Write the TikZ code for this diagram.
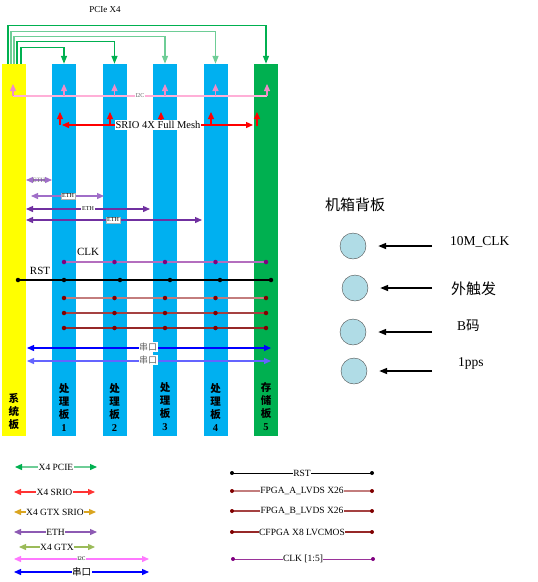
\documentclass[tikz,border=0pt]{standalone}
\usepackage{fontspec}
\setmainfont{Liberation Serif}
\newfontfamily\cjk{Noto Sans CJK SC}
\usetikzlibrary{arrows.meta}
\definecolor{sysyellow}{RGB}{255,255,0}
\definecolor{procblue}{RGB}{0,176,240}
\definecolor{storgreen}{RGB}{0,176,80}
\definecolor{pcieA}{RGB}{0,176,80}
\definecolor{pcieB}{RGB}{110,205,150}
\definecolor{i2cpink}{RGB}{255,175,215}
\definecolor{i2carr}{RGB}{240,140,200}
\definecolor{srioRed}{RGB}{255,0,0}
\definecolor{ethA}{RGB}{112,48,160}
\definecolor{ethB}{RGB}{160,110,200}
\definecolor{clkDot}{RGB}{128,0,128}
\definecolor{clkLine}{RGB}{180,110,190}
\definecolor{marDot}{RGB}{128,0,0}
\definecolor{marA}{RGB}{195,125,125}
\definecolor{marB}{RGB}{165,65,65}
\definecolor{marC}{RGB}{150,40,40}
\definecolor{uartA}{RGB}{0,0,255}
\definecolor{uartB}{RGB}{100,100,255}
\definecolor{gtxGold}{RGB}{218,165,32}
\definecolor{gtxOlive}{RGB}{155,187,89}
\definecolor{i2cLeg}{RGB}{255,120,255}
\definecolor{portFill}{RGB}{176,220,230}
\tikzset{
  board/.style={draw=none,inner sep=0,minimum width=24pt,minimum height=372pt},
  downtip/.style={-{Triangle[length=8pt,width=6pt]}},
  uptip/.style={-{Triangle[length=7pt,width=6pt]}},
  dtip/.style={{Triangle[length=7pt,width=6pt]}-{Triangle[length=7pt,width=6pt]}},
  sig/.style={line width=1.3pt},
  dotmark/.style={circle,fill=#1,inner sep=0,minimum size=4.5pt},
  vlabel/.style={align=center,text=black,font=\cjk\bfseries\fontsize{10.5}{13}\selectfont},
  leg/.style={fill=white,text=black,inner sep=0.5pt,font=\fontsize{9.5}{10}\selectfont},
  ethlab/.style={fill=white,text=black,inner sep=1pt,font=\fontsize{6}{6}\selectfont},
  port/.style={circle,draw=black!70,fill=portFill,minimum size=26pt,inner sep=0},
  inarrow/.style={-{Triangle[length=8pt,width=6pt]},line width=1.6pt,shorten >=12pt},
}
\begin{document}
\begin{tikzpicture}[x=1pt,y=-1pt]
\useasboundingbox (0,0) rectangle (538,582);

% boards
\node[board,fill=sysyellow] (b0) at (14,250) {};
\node[board,fill=procblue] (b1) at (64,250) {};
\node[board,fill=procblue] (b2) at (114.5,250) {};
\node[board,fill=procblue] (b3) at (165,250) {};
\node[board,fill=procblue] (b4) at (215.5,250) {};
\node[board,fill=storgreen] (b5) at (266,250) {};

% PCIe
\node[font=\fontsize{9}{10}\selectfont] (pcielab) at (105,10) {PCIe X4};
\draw[sig,pcieA,downtip] ([xshift=-6pt]b0.north) -- ++(0,-38) -| (b5.north);
\draw[sig,pcieB,downtip] ([xshift=-3pt]b0.north) -- ++(0,-32) -| (b4.north);
\draw[sig,pcieB,downtip] ([xshift=0pt]b0.north) -- ++(0,-27) -| (b3.north);
\draw[sig,pcieA,downtip] ([xshift=3pt]b0.north) -- ++(0,-22) -| (b2.north);
\draw[sig,pcieA,downtip] ([xshift=7pt]b0.north) -- ++(0,-16) -| (b1.north);

% I2C
\coordinate (i2cL) at (13,96);
\coordinate (i2cR) at (267,96);
\draw[sig,i2cpink] (i2cL) -- (i2cR);
\foreach \b in {b1,b2,b3,b4} \draw[sig,i2carr,uptip] (\b.center |- i2cL) -- ++(0,-12);
\draw[sig,i2carr,uptip] (i2cL) -- ++(0,-12);
\draw[sig,i2carr,uptip] (i2cR) -- ++(0,-12);
\node[fill=white,inner sep=0.5pt,text=black!60,font=\fontsize{6}{6}\selectfont] (i2clab) at (140,96) {I2C};

% SRIO
\draw[sig,srioRed,dtip] (62,125) -- (253,125);
\foreach \x in {60,110,161,211} \draw[sig,srioRed,uptip] (\x,125) -- (\x,112);
\draw[sig,srioRed,uptip] (257,126) -- (257,112);
\node[fill=white,text=black,inner sep=1pt,font=\fontsize{10.5}{11}\selectfont] (sriolab) at (158,125) {SRIO 4X Full Mesh};

% ETH
\draw[sig,ethB,dtip] (26,180) -- node[inner sep=0,text=black!55,font=\fontsize{6.5}{7}\selectfont] (eth1) {ETH} (52,180);
\draw[sig,ethB,dtip] (31,196) -- (104,196);
\node[ethlab,draw=black!30] (eth2) at (68,196) {ETH};
\draw[sig,ethA,dtip] (26,209) -- (150,209);
\node[ethlab] (eth3) at (88,209) {ETH};
\draw[sig,ethA,dtip] (26,220) -- (202,220);
\node[ethlab,draw=black!30] (eth4) at (113,220) {ETH};

% CLK
\draw[sig,clkLine] (64,262) -- (266,262);
\foreach \b in {b1,b2,b3,b4,b5} \node[dotmark=clkDot] at (\b.center |- 0,262) {};
\node[font=\fontsize{11}{12}\selectfont] (clklab) at (88,252) {CLK};

% RST
\draw[line width=1.2pt,black] (18,280) -- (271,280);
\foreach \x in {18,64,120,170,220,271} \node[dotmark=black] at (\x,280) {};
\node[font=\fontsize{11}{12}\selectfont] (rstlab) at (40,271) {RST};

% LVDS / LVCMOS
\draw[sig,marA] (64,298) -- (266,298);
\draw[sig,marB] (64,313) -- (266,313);
\draw[sig,marC] (64,328) -- (266,328);
\foreach \y in {298,313,328}
  \foreach \b in {b1,b2,b3,b4,b5} \node[dotmark=marDot] at (\b.center |- 0,\y) {};

% UART
\draw[sig,uartA,dtip] (27,348) -- (271,348);
\draw[sig,uartB,dtip] (27,361) -- (271,361);
\node[fill=white,inner sep=0.5pt,text=black!60,font=\cjk\fontsize{9}{9}\selectfont] (u1) at (148,347) {串口};
\node[fill=white,inner sep=0.5pt,text=black!60,font=\cjk\fontsize{9}{9}\selectfont] (u2) at (148,360) {串口};

% board labels
\node[vlabel] (l0) at (14,411) {系\\统\\板};
\node[vlabel] (l1) at (64,407) {处\\理\\板\\{\rmfamily 1}};
\node[vlabel] (l2) at (114.5,407) {处\\理\\板\\{\rmfamily 2}};
\node[vlabel] (l3) at (165,407) {处\\理\\板\\{\rmfamily 3}};
\node[vlabel] (l4) at (215.5,407) {处\\理\\板\\{\rmfamily 4}};
\node[vlabel] (l5) at (266,406.5) {存\\储\\板\\{\rmfamily 5}};

% left legend
\draw[sig,pcieB,{Triangle[length=7pt,width=6pt,color=pcieA]}-{Triangle[length=7pt,width=6pt,color=pcieA]}] (15,467) -- node[leg] (g1) {X4 PCIE} (97,467);
\draw[sig,srioRed!80,dtip] (14,492) -- node[leg] (g2) {X4 SRIO} (95,492);
\draw[sig,gtxGold,dtip] (14,512) -- node[leg] (g3) {X4 GTX SRIO} (96,512);
\draw[sig,ethA!80,dtip] (14,532) -- node[leg] (g4) {ETH} (97,532);
\draw[sig,gtxOlive,dtip] (19,547) -- node[leg] (g5) {X4 GTX} (95,547);
\draw[sig,i2cLeg,dtip] (14,559) -- node[leg,font=\fontsize{5.5}{6}\selectfont] (g6) {I2C} (149,559);
\draw[sig,uartA,dtip] (14,572) -- node[leg,font=\cjk\fontsize{9.5}{10}\selectfont] (g7) {串口} (149,572);

% right legend
\draw[line width=1pt,black] (232,473) -- node[leg] (r1) {RST} (372,473);
\draw[sig,marA] (232,491) -- node[leg] (r2) {FPGA\_A\_LVDS X26} (372,491);
\draw[sig,marB] (232,511) -- node[leg] (r3) {FPGA\_B\_LVDS X26} (372,511);
\draw[sig,marC] (232,532) -- node[leg] (r4) {CFPGA X8 LVCMOS} (372,532);
\draw[line width=1pt,clkDot!80] (233,559) -- node[leg] (r5) {CLK [1:5]} (373,559);
\node[dotmark=black,minimum size=4pt] at (232,473) {};
\node[dotmark=black,minimum size=4pt] at (372,473) {};
\foreach \y in {491,511,532} { \node[dotmark=marDot,minimum size=4pt] at (232,\y) {}; \node[dotmark=marDot,minimum size=4pt] at (372,\y) {}; }
\node[dotmark=clkDot,minimum size=4pt] at (233,559) {};
\node[dotmark=clkDot,minimum size=4pt] at (373,559) {};

% backplane
\node[font=\cjk\fontsize{15}{16}\selectfont] (bp) at (355,205) {机箱背板};
\node[port] (p1) at (353,246) {};
\node[port] (p2) at (355,288) {};
\node[port] (p3) at (353,332) {};
\node[port] (p4) at (354,371) {};
\draw[inarrow] (432,246) -- (p1.east |- 0,246);
\draw[inarrow] (432,288) -- (p2.east |- 0,288);
\draw[inarrow] (432,332) -- (p3.east |- 0,332);
\draw[inarrow] (432,371) -- (p4.east |- 0,371);
\node[anchor=west,font=\fontsize{13.5}{14}\selectfont,inner sep=0] (t1) at (450,242) {10M\_CLK};
\node[anchor=west,font=\cjk\fontsize{15}{16}\selectfont,inner sep=0] (t2) at (451,289) {外触发};
\node[anchor=west,font=\fontsize{13.5}{14}\selectfont,inner sep=0] (t3) at (457,326) {B{\cjk 码}};
\node[anchor=west,font=\fontsize{13.5}{14}\selectfont,inner sep=0] (t4) at (458,363) {1pps};
\end{tikzpicture}
\end{document}
